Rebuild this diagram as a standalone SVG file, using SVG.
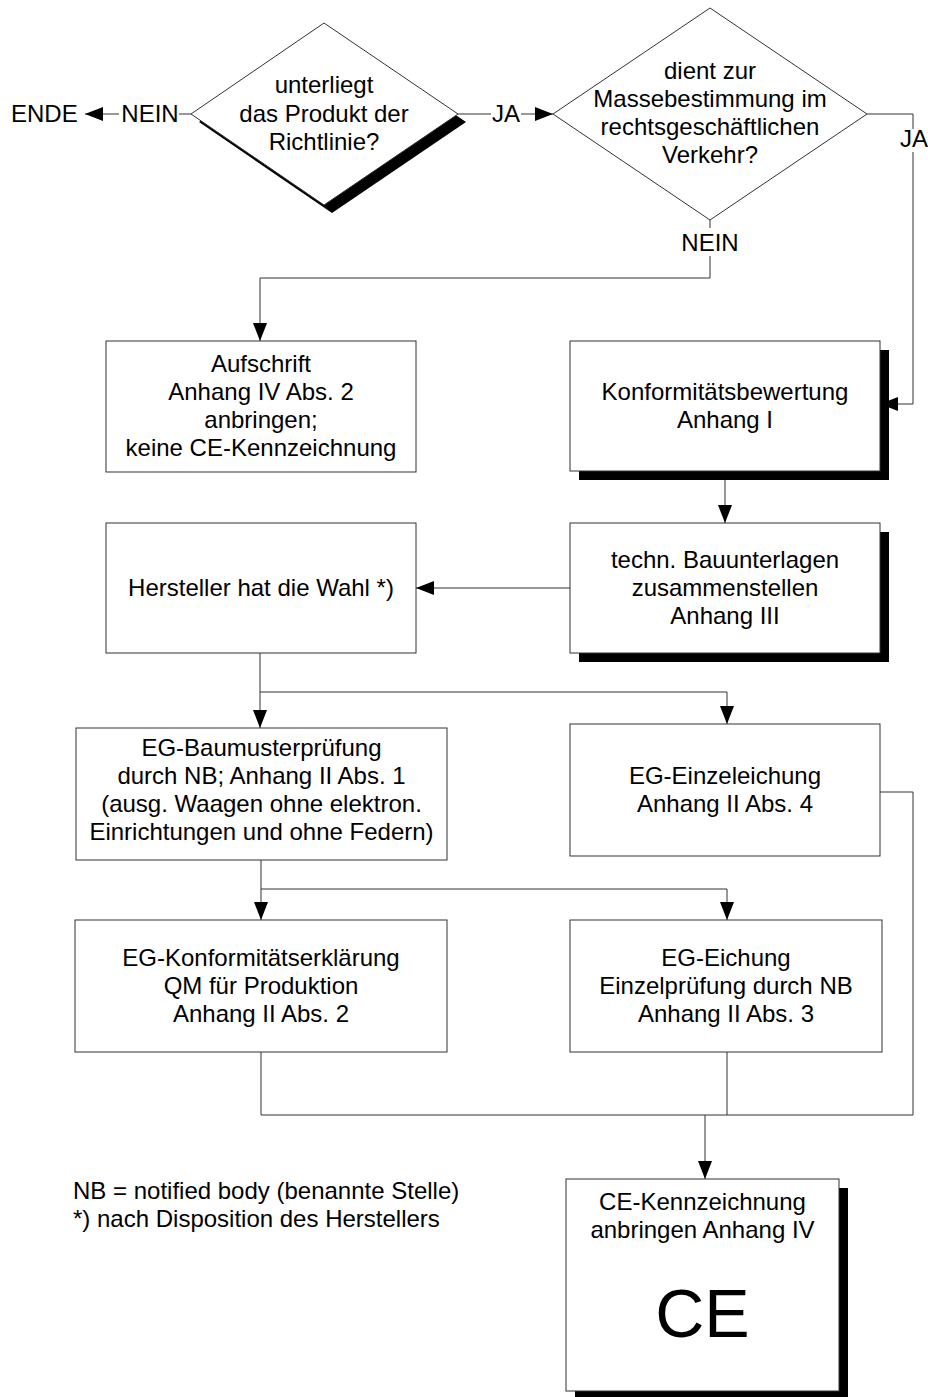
<svg xmlns="http://www.w3.org/2000/svg" width="928" height="1397" viewBox="0 0 928 1397">
<defs>
<style>
text{font-family:"Liberation Sans",Arial,sans-serif;font-size:24px;fill:#000;text-anchor:middle}
.st{text-anchor:start}
.box{fill:#fff;stroke:#333;stroke-width:1}
.sh{fill:#000}
.ln{fill:none;stroke:#333;stroke-width:1}
.ar{marker-end:url(#arr)}
</style>
<marker id="arr" markerUnits="userSpaceOnUse" markerWidth="18" markerHeight="14" refX="18" refY="7" orient="auto">
<path d="M0,0 L18,7 L0,14 z" fill="#000"/>
</marker>
</defs>
<rect width="928" height="1397" fill="#fff"/>
<g id="connectors">
<line class="ln" x1="191" y1="114" x2="179" y2="114"/>
<line class="ln ar" x1="119" y1="114" x2="85" y2="114"/>
<line class="ln" x1="458" y1="114" x2="491" y2="114"/>
<line class="ln ar" x1="521" y1="114" x2="553" y2="114"/>
<polyline class="ln" points="867,114 913,114 913,129"/>
<polyline class="ln ar" points="913,152 913,404 880,404"/>
<line class="ln" x1="710" y1="220" x2="710" y2="228"/>
<polyline class="ln ar" points="710,256 710,278 260,278 260,341"/>
<line class="ln ar" x1="725" y1="471" x2="725" y2="523"/>
<line class="ln ar" x1="570" y1="588" x2="416" y2="588"/>
<polyline class="ln ar" points="260,653 260,692 260,728"/>
<polyline class="ln ar" points="260,692 727,692 727,724"/>
<polyline class="ln ar" points="261,860 261,889 261,920"/>
<polyline class="ln ar" points="261,889 727,889 727,920"/>
<polyline class="ln" points="880,792 913,792 913,1115"/>
<polyline class="ln" points="261,1052 261,1115 913,1115"/>
<line class="ln" x1="727" y1="1052" x2="727" y2="1115"/>
<line class="ln ar" x1="705" y1="1115" x2="705" y2="1179"/>
<text x="11" y="122" class="st">ENDE</text>
<text x="150" y="122">NEIN</text>
<text x="506" y="122">JA</text>
<text x="914" y="147">JA</text>
<text x="710" y="251">NEIN</text>
</g>
<g id="d1">
<polygon class="sh" points="332,31 466,122 332,213 199,122"/>
<polygon class="box" points="324,23 458,114 324,205 191,114"/>
<text x="324" y="93">unterliegt</text>
<text x="324" y="121.5">das Produkt der</text>
<text x="324" y="150">Richtlinie?</text>
</g>
<g id="d2">
<polygon class="box" points="710,8 867,114 710,220 553,114"/>
<text x="710" y="79">dient zur</text>
<text x="710" y="107">Massebestimmung im</text>
<text x="710" y="135">rechtsgeschäftlichen</text>
<text x="710" y="163">Verkehr?</text>
</g>
<g id="aufschrift">
<rect class="box" x="106" y="341" width="310" height="131"/>
<text x="261" y="372">Aufschrift</text>
<text x="261" y="400">Anhang IV Abs. 2</text>
<text x="261" y="428">anbringen;</text>
<text x="261" y="456">keine CE-Kennzeichnung</text>
</g>
<g id="konformitaet">
<rect class="sh" x="579" y="350" width="310" height="130"/>
<rect class="box" x="570" y="341" width="310" height="130"/>
<text x="725" y="400">Konformitätsbewertung</text>
<text x="725" y="428">Anhang I</text>
</g>
<g id="hersteller">
<rect class="box" x="106" y="523" width="310" height="130"/>
<text x="261" y="596">Hersteller hat die Wahl *)</text>
</g>
<g id="techn">
<rect class="sh" x="579" y="532" width="310" height="130"/>
<rect class="box" x="570" y="523" width="310" height="130"/>
<text x="725" y="568">techn. Bauunterlagen</text>
<text x="725" y="596">zusammenstellen</text>
<text x="725" y="624">Anhang III</text>
</g>
<g id="baumuster">
<rect class="box" x="76" y="728" width="371" height="132"/>
<text x="261.5" y="756">EG-Baumusterprüfung</text>
<text x="261.5" y="784">durch NB; Anhang II Abs. 1</text>
<text x="261.5" y="812">(ausg. Waagen ohne elektron.</text>
<text x="261.5" y="840">Einrichtungen und ohne Federn)</text>
</g>
<g id="einzeleichung">
<rect class="box" x="570" y="724" width="310" height="132"/>
<text x="725" y="784">EG-Einzeleichung</text>
<text x="725" y="812">Anhang II Abs. 4</text>
</g>
<g id="konformitaetserklaerung">
<rect class="box" x="75" y="920" width="372" height="132"/>
<text x="261" y="966">EG-Konformitätserklärung</text>
<text x="261" y="994">QM für Produktion</text>
<text x="261" y="1022">Anhang II Abs. 2</text>
</g>
<g id="eichung">
<rect class="box" x="570" y="920" width="312" height="132"/>
<text x="726" y="966">EG-Eichung</text>
<text x="726" y="994">Einzelprüfung durch NB</text>
<text x="726" y="1022">Anhang II Abs. 3</text>
</g>
<g id="ce">
<rect class="sh" x="575" y="1188" width="273" height="212"/>
<rect class="box" x="566" y="1179" width="273" height="212"/>
<text x="702.5" y="1210">CE-Kennzeichnung</text>
<text x="702.5" y="1238">anbringen Anhang IV</text>
<text x="702.5" y="1337" style="font-size:68px">CE</text>
</g>
<g id="notes">
<text x="73" y="1199" class="st">NB = notified body (benannte Stelle)</text>
<text x="73" y="1227" class="st">*) nach Disposition des Herstellers</text>
</g>
</svg>
